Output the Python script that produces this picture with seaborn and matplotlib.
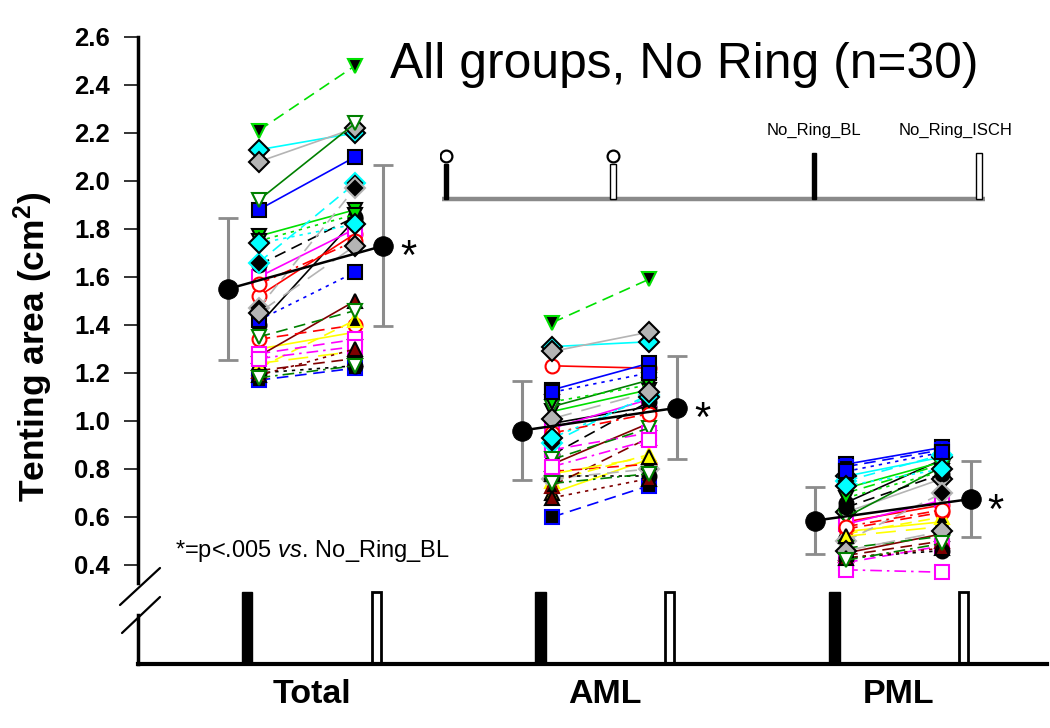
import numpy as np
import pandas as pd
import matplotlib
matplotlib.use("Agg")
import matplotlib.pyplot as plt
import seaborn as sns
from matplotlib.lines import Line2D

# ---------------- data ----------------
groups = ["Total", "AML", "PML"]

total_bl = [1.40, 1.52, 1.77, 1.30, 1.88, 1.60, 2.13, 2.08, 1.27, 1.92,
            1.65, 1.34, 2.21, 1.22, 1.17, 1.28, 1.66, 1.47, 1.21, 1.35,
            1.20, 1.57, 1.75, 1.24, 1.42, 1.26, 1.74, 1.45, 1.19, 1.18]
total_isch = [1.84, 1.78, 1.88, 1.37, 2.10, 1.80, 2.20, 2.22, 1.50, 2.24,
              1.85, 1.40, 2.48, 1.42, 1.22, 1.34, 1.99, 1.97, 1.26, 1.46,
              1.23, 1.75, 1.86, 1.29, 1.62, 1.31, 1.82, 1.73, 1.30, 1.23]

aml_bl = [0.99, 1.23, 1.04, 0.70, 1.13, 0.97, 1.31, 1.29, 0.82, 1.06,
          0.86, 0.79, 1.41, 0.75, 0.60, 0.88, 0.91, 0.76, 0.73, 0.84,
          0.77, 0.95, 1.08, 0.78, 1.12, 0.81, 0.93, 1.01, 0.68, 0.74]
aml_isch = [1.06, 1.22, 1.13, 0.84, 1.24, 1.09, 1.33, 1.37, 0.99, 1.17,
            1.08, 0.82, 1.59, 0.86, 0.73, 0.95, 1.11, 0.80, 0.93, 0.97,
            0.77, 1.03, 1.15, 0.85, 1.20, 0.92, 1.10, 1.12, 0.76, 0.78]

pml_bl = [0.66, 0.58, 0.72, 0.54, 0.82, 0.57, 0.77, 0.62, 0.45, 0.60,
          0.64, 0.55, 0.70, 0.53, 0.81, 0.41, 0.75, 0.50, 0.44, 0.47,
          0.43, 0.56, 0.68, 0.52, 0.79, 0.38, 0.73, 0.46, 0.43, 0.42]
pml_isch = [0.84, 0.65, 0.83, 0.58, 0.89, 0.67, 0.85, 0.76, 0.53, 0.81,
            0.78, 0.62, 0.82, 0.60, 0.88, 0.48, 0.86, 0.70, 0.50, 0.52,
            0.46, 0.63, 0.79, 0.56, 0.87, 0.37, 0.80, 0.54, 0.47, 0.49]

mean_bl = [1.55, 0.96, 0.585]
mean_isch = [1.73, 1.055, 0.675]
sd_bl = [0.295, 0.205, 0.14]
sd_isch = [0.335, 0.215, 0.16]

y_ticks = [0.4, 0.6, 0.8, 1.0, 1.2, 1.4, 1.6, 1.8, 2.0, 2.2, 2.4, 2.6]
inset_labels = ["", "", "No_Ring_BL", "No_Ring_ISCH"]
title = "All groups, No Ring (n=30)"
note = r"*=p<.005 $\it{vs.}\,$No_Ring_BL"
ylabel = r"Tenting area (cm$^{\mathbf{2}}$)"

# ---------------- style ----------------
sns.set_style("ticks")
plt.rcParams["font.family"] = ["Liberation Sans", "DejaVu Sans"]
plt.rcParams["mathtext.fontset"] = "custom"
plt.rcParams["mathtext.rm"] = "Liberation Sans"
plt.rcParams["mathtext.it"] = "Liberation Sans:italic"
plt.rcParams["mathtext.bf"] = "Liberation Sans:bold"
for key in ["text.color", "axes.labelcolor", "xtick.color", "ytick.color",
            "axes.edgecolor"]:
    plt.rcParams[key] = "black"

base_colors = ["black", "#ff0000", "#00e000", "#ffff00", "#0000ff",
               "#ff00ff", "#00ffff", "#b4b4b4", "#800000", "#008000"]
base_markers = ["o", "o", "v", "^", "s", "s", "D", "D", "^", "v"]
base_filled = [True, False, True, True, True, False, True, True, True, False]
cycle_ls = ["-", (0, (7, 4)), (0, (2, 3))]
alt_ls = [(0, (7, 3, 1.5, 3)), (0, (12, 6))]

W, H = 1050, 728
def fx(px):
    return px / W
def fy(py):
    return 1 - py / H

fig = plt.figure(figsize=(10.5, 7.28), dpi=100)
ax = fig.add_axes([fx(138), fy(583), fx(1047) - fx(138), fy(37) - fy(583)])
axb = fig.add_axes([fx(138), fy(664), fx(1047) - fx(138), fy(592) - fy(664)])

xlim = (-0.5906, 2.504)
off_bar = 0.22
off_pt_bl, off_pt_is = -0.18, 0.148
off_mn_bl, off_mn_is = -0.285, 0.245

bl_all = [total_bl, aml_bl, pml_bl]
is_all = [total_isch, aml_isch, pml_isch]

# subject lines
for g in range(3):
    for i in range(30):
        k, j = divmod(i, 10)
        col = base_colors[j]
        if base_filled[j]:
            if k == 1:
                mfc, mec = "black", col
            else:
                mfc, mec = col, "black"
        else:
            mfc, mec = "white", col
        ls = cycle_ls[k]
        if k == 2 and j % 2 == 1:
            ls = alt_ls[(j // 2) % 2]
        ax.plot([g + off_pt_bl, g + off_pt_is], [bl_all[g][i], is_all[g][i]],
                color=col, ls=ls, lw=1.2, marker=base_markers[j], ms=10,
                mfc=mfc, mec=mec, mew=1.5, zorder=2, clip_on=False)

# mean +/- SD
mx_bl = [g + off_mn_bl for g in range(3)]
mx_is = [g + off_mn_is for g in range(3)]
for xs, ms_, sds in [(mx_bl, mean_bl, sd_bl), (mx_is, mean_isch, sd_isch)]:
    eb = ax.errorbar(xs, ms_, yerr=sds, fmt="none", ecolor="#8c8c8c",
                     elinewidth=2.2, capsize=7.5, capthick=2.0, zorder=3)
    for cl in eb[1]:
        cl.set_color("#555555")

mdf = pd.DataFrame({
    "x": mx_bl + mx_is,
    "y": mean_bl + mean_isch,
    "grp": [0, 1, 2, 0, 1, 2],
})
sns.lineplot(data=mdf, x="x", y="y", units="grp", estimator=None, sort=True,
             color="black", lw=1.8, marker="o", markersize=14,
             markeredgecolor="black", ax=ax, zorder=5)

for g in range(3):
    ax.annotate("*", xy=(mx_is[g], mean_isch[g]), xytext=(12, -17),
                textcoords="offset points", ha="left", va="baseline",
                fontsize=30, color="black")

ax.set_xlim(*xlim)
ax.set_ylim(0.325, 2.6)
ax.set_yticks(y_ticks)
ax.set_yticklabels([f"{t:.1f}" for t in y_ticks], fontsize=18.5, fontweight="bold")
ax.tick_params(axis="y", length=10, width=1.4, color="#333333", pad=10)
ax.set_xticks([])
for s in ["top", "right", "bottom"]:
    ax.spines[s].set_visible(False)
ax.spines["left"].set_linewidth(2.5)
ax.set_xlabel("")
ax.set_ylabel("")
ax.patch.set_alpha(0)

# lower (broken) segment with bars; bars cut at the break
seg_top = 0.3
axb.bar([g - off_bar for g in range(3)], np.minimum(mean_bl, seg_top),
        width=0.036, color="black", edgecolor="black", linewidth=1,
        clip_on=False)
axb.bar([g + off_bar for g in range(3)], np.minimum(mean_isch, seg_top),
        width=0.030, color="white", edgecolor="black", linewidth=2.0,
        clip_on=False)
axb.set_xlim(*xlim)
axb.set_ylim(0, seg_top)
axb.set_yticks([])
axb.set_xticks(range(3))
axb.set_xticklabels(groups, fontsize=24.5, fontweight="bold")
axb.tick_params(axis="x", length=0, pad=11)
for s in ["top", "right"]:
    axb.spines[s].set_visible(False)
axb.spines["left"].set_bounds(0, 0.204)
axb.spines["left"].set_linewidth(2.5)
axb.spines["bottom"].set_linewidth(3)
axb.spines["bottom"].set_zorder(5)
axb.patch.set_alpha(0)

# break marks
fig.add_artist(Line2D([fx(120), fx(160)], [fy(605), fy(568)], color="black", lw=1.6))
fig.add_artist(Line2D([fx(122), fx(160)], [fy(633), fy(597)], color="black", lw=1.6))

# texts
fig.text(fx(33), fy(347), ylabel, rotation=90, ha="center", va="center",
         fontsize=25.5, fontweight="bold")
fig.text(fx(390), fy(78), title, ha="left", va="baseline", fontsize=35.8)
fig.text(fx(175), fy(557), note, ha="left", va="baseline", fontsize=17)

# inset condition diagram
ins = fig.add_axes([fx(440), fy(215), fx(990) - fx(440), fy(110) - fy(215)])
ins.set_xlim(0, 1)
ins.set_ylim(0, 1)
ins.axis("off")
stem_x = [0.011, 0.3145, 0.68, 0.98]
stem_top = [0.49, 0.49, 0.59, 0.59]
stem_fill = ["black", "white", "black", "white"]
stem_w = [0.008, 0.010, 0.009, 0.011]
base_y = 0.152
ins.plot([0.004, 0.99], [base_y, base_y], color="#8a8a8a", lw=3.2,
         solid_capstyle="butt", zorder=1)
for x, t, f, w in zip(stem_x, stem_top, stem_fill, stem_w):
    ins.bar(x, t - base_y, bottom=base_y, width=w, color=f, edgecolor="black",
            linewidth=1.0, zorder=2)
ring_x = [stem_x[0], stem_x[1]]
ins.plot(ring_x, [0.56, 0.56], ls="none", marker="o", ms=8.5, mfc="white",
         mec="black", mew=1.6, zorder=3)
ins.text(stem_x[2], 0.81, inset_labels[2], ha="center", va="center", fontsize=12)
ins.text(stem_x[3] + 0.06, 0.81, inset_labels[3], ha="right", va="center", fontsize=12)

fig.savefig("out.png", dpi=100)
